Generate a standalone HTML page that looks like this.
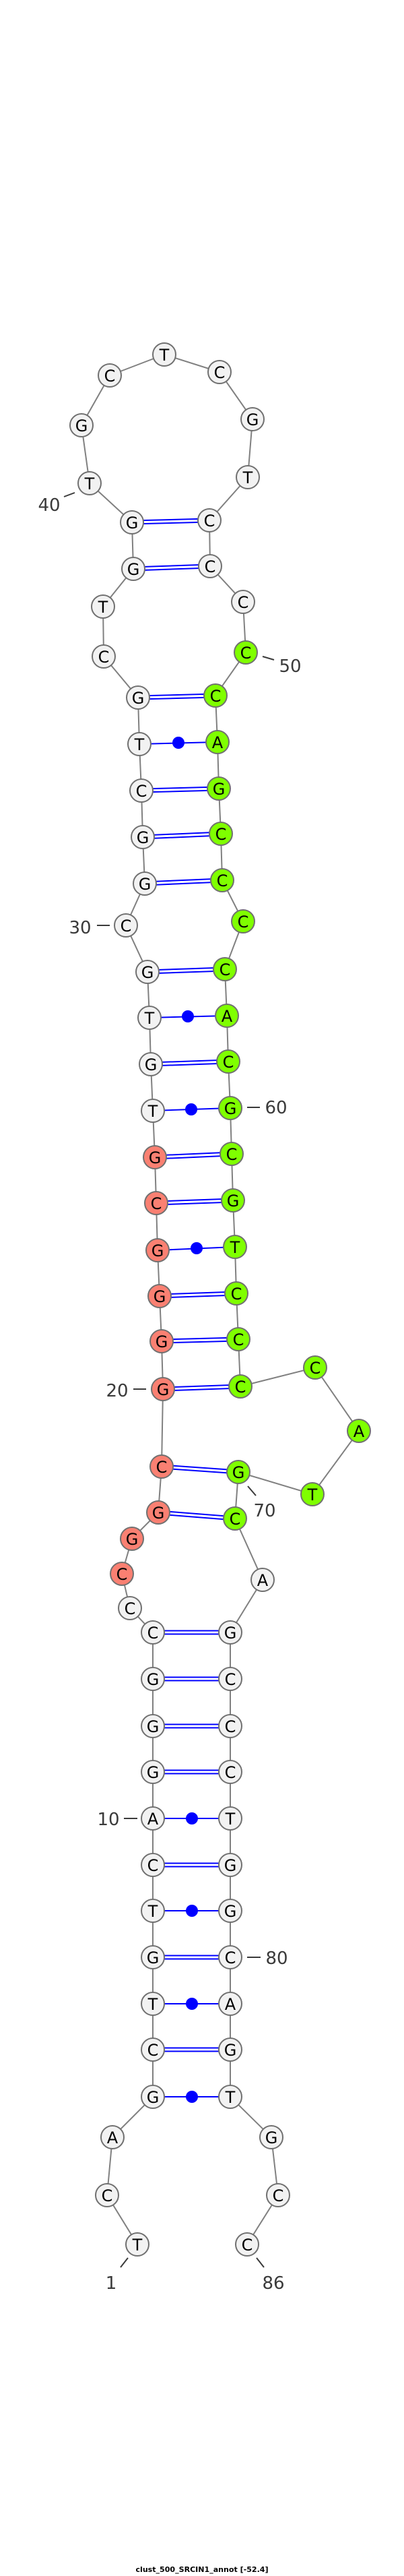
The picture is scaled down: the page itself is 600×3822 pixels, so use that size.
<!DOCTYPE html>
<html><head><meta charset="utf-8"><style>
html,body{margin:0;padding:0;background:#fff;}
svg{display:block;}
.n{stroke:#707070;stroke-width:2;}
.w{fill:#f2f2f2;}.g{fill:#7fff00;}.r{fill:#fa8072;}
.t{font-family:"DejaVu Sans","Liberation Sans",sans-serif;font-size:24px;text-anchor:middle;fill:#000;}
.l{font-family:"DejaVu Sans","Liberation Sans",sans-serif;font-size:26px;text-anchor:middle;fill:#3a3a3a;}
.bb{fill:none;stroke:#808080;stroke-width:2;}
.p{stroke:#0000ff;stroke-width:2;}
.tk{stroke:#3a3a3a;stroke-width:2;}
</style></head><body>
<svg width="600" height="3822" viewBox="0 0 600 3822" xmlns="http://www.w3.org/2000/svg">
<polyline class="bb" points="204,3330 159,3257 167,3171 227,3111 227,3041 227,2973 227,2904 227,2835 227,2767 227,2698 227,2629 227,2561 227,2491 227,2422 193,2386 181,2335 196,2283 235,2244 240,2176 242,2061 240,1990 237,1923 234,1855 232,1785 230,1717 227,1648 224,1579 222,1510 219,1442 187,1373 215,1311 212,1242 210,1173 207,1104 205,1035 154,974 153,900 198,844 196,775 133,717 121,631 163,557 244,526 326,552 375,622 368,708 311,772 312,840 361,893 365,968 320,1032 323,1101 325,1170 328,1237 330,1306 361,1367 334,1438 337,1507 339,1575 342,1644 344,1712 346,1781 349,1850 351,1919 354,1987 357,2057 468,2029 533,2123 464,2217 354,2184 349,2253 390,2344 342,2422 342,2491 342,2561 342,2629 342,2698 342,2767 342,2835 342,2904 342,2973 342,3041 342,3111 403,3171 413,3257 367,3330"/>
<g class="p">
<!-- double lines -->
<line x1="196" y1="772.5" x2="311" y2="769.5"/><line x1="196" y1="777.5" x2="311" y2="774.5"/>
<line x1="198" y1="841.5" x2="312" y2="837.5"/><line x1="198" y1="846.5" x2="312" y2="842.5"/>
<line x1="205" y1="1032.5" x2="320" y2="1029.5"/><line x1="205" y1="1037.5" x2="320" y2="1034.5"/>
<line x1="210" y1="1170.5" x2="325" y2="1167.5"/><line x1="210" y1="1175.5" x2="325" y2="1172.5"/>
<line x1="212" y1="1239.5" x2="328" y2="1234.5"/><line x1="212" y1="1244.5" x2="328" y2="1239.5"/>
<line x1="215" y1="1308.5" x2="330" y2="1303.5"/><line x1="215" y1="1313.5" x2="330" y2="1308.5"/>
<line x1="219" y1="1439.5" x2="334" y2="1435.5"/><line x1="219" y1="1444.5" x2="334" y2="1440.5"/>
<line x1="224" y1="1576.5" x2="339" y2="1572.5"/><line x1="224" y1="1581.5" x2="339" y2="1577.5"/>
<line x1="230" y1="1714.5" x2="344" y2="1709.5"/><line x1="230" y1="1719.5" x2="344" y2="1714.5"/>
<line x1="232" y1="1782.5" x2="346" y2="1778.5"/><line x1="232" y1="1787.5" x2="346" y2="1783.5"/>
<line x1="237" y1="1920.5" x2="351" y2="1916.5"/><line x1="237" y1="1925.5" x2="351" y2="1921.5"/>
<line x1="240" y1="1987.5" x2="354" y2="1984.5"/><line x1="240" y1="1992.5" x2="354" y2="1989.5"/>
<line x1="242" y1="2058.5" x2="357" y2="2054.5"/><line x1="242" y1="2063.5" x2="357" y2="2059.5"/>
<line x1="240" y1="2173.5" x2="354" y2="2181.5"/><line x1="240" y1="2178.5" x2="354" y2="2186.5"/>
<line x1="235" y1="2241.5" x2="349" y2="2250.5"/><line x1="235" y1="2246.5" x2="349" y2="2255.5"/>
<line x1="227" y1="2419.5" x2="342" y2="2419.5"/><line x1="227" y1="2424.5" x2="342" y2="2424.5"/>
<line x1="227" y1="2488.5" x2="342" y2="2488.5"/><line x1="227" y1="2493.5" x2="342" y2="2493.5"/>
<line x1="227" y1="2558.5" x2="342" y2="2558.5"/><line x1="227" y1="2563.5" x2="342" y2="2563.5"/>
<line x1="227" y1="2626.5" x2="342" y2="2626.5"/><line x1="227" y1="2631.5" x2="342" y2="2631.5"/>
<line x1="227" y1="2764.5" x2="342" y2="2764.5"/><line x1="227" y1="2769.5" x2="342" y2="2769.5"/>
<line x1="227" y1="2901.5" x2="342" y2="2901.5"/><line x1="227" y1="2906.5" x2="342" y2="2906.5"/>
<line x1="227" y1="3038.5" x2="342" y2="3038.5"/><line x1="227" y1="3043.5" x2="342" y2="3043.5"/>
<!-- single lines -->
<line x1="207" y1="1104" x2="323" y2="1101"/>
<line x1="222" y1="1510" x2="337" y2="1507"/>
<line x1="227" y1="1648" x2="342" y2="1644"/>
<line x1="234" y1="1855" x2="349" y2="1850"/>
<line x1="227" y1="2698" x2="342" y2="2698"/>
<line x1="227" y1="2835" x2="342" y2="2835"/>
<line x1="227" y1="2973" x2="342" y2="2973"/>
<line x1="227" y1="3111" x2="342" y2="3111"/>
</g>
<g fill="#0000ff">
<circle cx="265" cy="1102" r="9"/><circle cx="279" cy="1508" r="9"/><circle cx="284" cy="1646" r="9"/><circle cx="292" cy="1852" r="9"/>
<circle cx="285" cy="2698" r="9"/><circle cx="285" cy="2835" r="9"/><circle cx="285" cy="2973" r="9"/><circle cx="285" cy="3111" r="9"/>
</g>
<g class="tk">
<line x1="95" y1="737" x2="111" y2="731"/>
<line x1="390" y1="974" x2="407" y2="979"/>
<line x1="144" y1="1373" x2="163" y2="1373"/>
<line x1="367" y1="1643" x2="386" y2="1643"/>
<line x1="198" y1="2061" x2="217" y2="2061"/>
<line x1="368" y1="2205" x2="380" y2="2219"/>
<line x1="184" y1="2698" x2="204" y2="2698"/>
<line x1="367" y1="2904" x2="387" y2="2904"/>
<line x1="179" y1="3364" x2="190" y2="3350"/>
<line x1="381" y1="3350" x2="392" y2="3364"/>
</g>
<g class="l">
<text x="73" y="758">40</text><text x="431" y="997">50</text><text x="119" y="1385">30</text><text x="410" y="1652">60</text>
<text x="174" y="2072">20</text><text x="393" y="2250">70</text><text x="161" y="2708">10</text><text x="411" y="2914">80</text>
<text x="165" y="3396">1</text><text x="406" y="3396">86</text>
</g>
<g class="n">
<circle class="w" cx="204" cy="3330" r="17"/><circle class="w" cx="159" cy="3257" r="17"/><circle class="w" cx="167" cy="3171" r="17"/>
<circle class="w" cx="227" cy="3111" r="17"/><circle class="w" cx="227" cy="3041" r="17"/><circle class="w" cx="227" cy="2973" r="17"/>
<circle class="w" cx="227" cy="2904" r="17"/><circle class="w" cx="227" cy="2835" r="17"/><circle class="w" cx="227" cy="2767" r="17"/>
<circle class="w" cx="227" cy="2698" r="17"/><circle class="w" cx="227" cy="2629" r="17"/><circle class="w" cx="227" cy="2561" r="17"/>
<circle class="w" cx="227" cy="2491" r="17"/><circle class="w" cx="227" cy="2422" r="17"/><circle class="w" cx="193" cy="2386" r="17"/>
<circle class="r" cx="181" cy="2335" r="17"/><circle class="r" cx="196" cy="2283" r="17"/><circle class="r" cx="235" cy="2244" r="17"/>
<circle class="r" cx="240" cy="2176" r="17"/><circle class="r" cx="242" cy="2061" r="17"/><circle class="r" cx="240" cy="1990" r="17"/>
<circle class="r" cx="237" cy="1923" r="17"/><circle class="r" cx="234" cy="1855" r="17"/><circle class="r" cx="232" cy="1785" r="17"/>
<circle class="r" cx="230" cy="1717" r="17"/>
<circle class="w" cx="227" cy="1648" r="17"/><circle class="w" cx="224" cy="1579" r="17"/><circle class="w" cx="222" cy="1510" r="17"/>
<circle class="w" cx="219" cy="1442" r="17"/><circle class="w" cx="187" cy="1373" r="17"/><circle class="w" cx="215" cy="1311" r="17"/>
<circle class="w" cx="212" cy="1242" r="17"/><circle class="w" cx="210" cy="1173" r="17"/><circle class="w" cx="207" cy="1104" r="17"/>
<circle class="w" cx="205" cy="1035" r="17"/><circle class="w" cx="154" cy="974" r="17"/><circle class="w" cx="153" cy="900" r="17"/>
<circle class="w" cx="198" cy="844" r="17"/><circle class="w" cx="196" cy="775" r="17"/><circle class="w" cx="133" cy="717" r="17"/>
<circle class="w" cx="121" cy="631" r="17"/><circle class="w" cx="163" cy="557" r="17"/><circle class="w" cx="244" cy="526" r="17"/>
<circle class="w" cx="326" cy="552" r="17"/><circle class="w" cx="375" cy="622" r="17"/><circle class="w" cx="368" cy="708" r="17"/>
<circle class="w" cx="311" cy="772" r="17"/><circle class="w" cx="312" cy="840" r="17"/><circle class="w" cx="361" cy="893" r="17"/>
<circle class="g" cx="365" cy="968" r="17"/><circle class="g" cx="320" cy="1032" r="17"/><circle class="g" cx="323" cy="1101" r="17"/>
<circle class="g" cx="325" cy="1170" r="17"/><circle class="g" cx="328" cy="1237" r="17"/><circle class="g" cx="330" cy="1306" r="17"/>
<circle class="g" cx="361" cy="1367" r="17"/><circle class="g" cx="334" cy="1438" r="17"/><circle class="g" cx="337" cy="1507" r="17"/>
<circle class="g" cx="339" cy="1575" r="17"/><circle class="g" cx="342" cy="1644" r="17"/><circle class="g" cx="344" cy="1712" r="17"/>
<circle class="g" cx="346" cy="1781" r="17"/><circle class="g" cx="349" cy="1850" r="17"/><circle class="g" cx="351" cy="1919" r="17"/>
<circle class="g" cx="354" cy="1987" r="17"/><circle class="g" cx="357" cy="2057" r="17"/><circle class="g" cx="468" cy="2029" r="17"/>
<circle class="g" cx="533" cy="2123" r="17"/><circle class="g" cx="464" cy="2217" r="17"/><circle class="g" cx="354" cy="2184" r="17"/>
<circle class="g" cx="349" cy="2253" r="17"/>
<circle class="w" cx="390" cy="2344" r="17"/><circle class="w" cx="342" cy="2422" r="17"/><circle class="w" cx="342" cy="2491" r="17"/>
<circle class="w" cx="342" cy="2561" r="17"/><circle class="w" cx="342" cy="2629" r="17"/><circle class="w" cx="342" cy="2698" r="17"/>
<circle class="w" cx="342" cy="2767" r="17"/><circle class="w" cx="342" cy="2835" r="17"/><circle class="w" cx="342" cy="2904" r="17"/>
<circle class="w" cx="342" cy="2973" r="17"/><circle class="w" cx="342" cy="3041" r="17"/><circle class="w" cx="342" cy="3111" r="17"/>
<circle class="w" cx="403" cy="3171" r="17"/><circle class="w" cx="413" cy="3257" r="17"/><circle class="w" cx="367" cy="3330" r="17"/>
</g>
<g class="t">
<text x="204" y="3339">T</text><text x="159" y="3266">C</text><text x="167" y="3180">A</text>
<text x="227" y="3120">G</text><text x="227" y="3050">C</text><text x="227" y="2982">T</text>
<text x="227" y="2913">G</text><text x="227" y="2844">T</text><text x="227" y="2776">C</text>
<text x="227" y="2707">A</text><text x="227" y="2638">G</text><text x="227" y="2570">G</text>
<text x="227" y="2500">G</text><text x="227" y="2431">C</text><text x="193" y="2395">C</text>
<text x="181" y="2344">C</text><text x="196" y="2292">G</text><text x="235" y="2253">G</text>
<text x="240" y="2185">C</text><text x="242" y="2070">G</text><text x="240" y="1999">G</text>
<text x="237" y="1932">G</text><text x="234" y="1864">G</text><text x="232" y="1794">C</text>
<text x="230" y="1726">G</text>
<text x="227" y="1657">T</text><text x="224" y="1588">G</text><text x="222" y="1519">T</text>
<text x="219" y="1451">G</text><text x="187" y="1382">C</text><text x="215" y="1320">G</text>
<text x="212" y="1251">G</text><text x="210" y="1182">C</text><text x="207" y="1113">T</text>
<text x="205" y="1044">G</text><text x="154" y="983">C</text><text x="153" y="909">T</text>
<text x="198" y="853">G</text><text x="196" y="784">G</text><text x="133" y="726">T</text>
<text x="121" y="640">G</text><text x="163" y="566">C</text><text x="244" y="535">T</text>
<text x="326" y="561">C</text><text x="375" y="631">G</text><text x="368" y="717">T</text>
<text x="311" y="781">C</text><text x="312" y="849">C</text><text x="361" y="902">C</text>
<text x="365" y="977">C</text><text x="320" y="1041">C</text><text x="323" y="1110">A</text>
<text x="325" y="1179">G</text><text x="328" y="1246">C</text><text x="330" y="1315">C</text>
<text x="361" y="1376">C</text><text x="334" y="1447">C</text><text x="337" y="1516">A</text>
<text x="339" y="1584">C</text><text x="342" y="1653">G</text><text x="344" y="1721">C</text>
<text x="346" y="1790">G</text><text x="349" y="1859">T</text><text x="351" y="1928">C</text>
<text x="354" y="1996">C</text><text x="357" y="2066">C</text><text x="468" y="2038">C</text>
<text x="533" y="2132">A</text><text x="464" y="2226">T</text><text x="354" y="2193">G</text>
<text x="349" y="2262">C</text>
<text x="390" y="2353">A</text><text x="342" y="2431">G</text><text x="342" y="2500">C</text>
<text x="342" y="2570">C</text><text x="342" y="2638">C</text><text x="342" y="2707">T</text>
<text x="342" y="2776">G</text><text x="342" y="2844">G</text><text x="342" y="2913">C</text>
<text x="342" y="2982">A</text><text x="342" y="3050">G</text><text x="342" y="3120">T</text>
<text x="403" y="3180">G</text><text x="413" y="3266">C</text><text x="367" y="3339">C</text>
</g>
<text x="300" y="3816" font-family="DejaVu Sans, Liberation Sans, sans-serif" font-size="11" font-weight="bold" text-anchor="middle" textLength="197" lengthAdjust="spacingAndGlyphs">clust_500_SRCIN1_annot [-52.4]</text>
</svg>
</body></html>
